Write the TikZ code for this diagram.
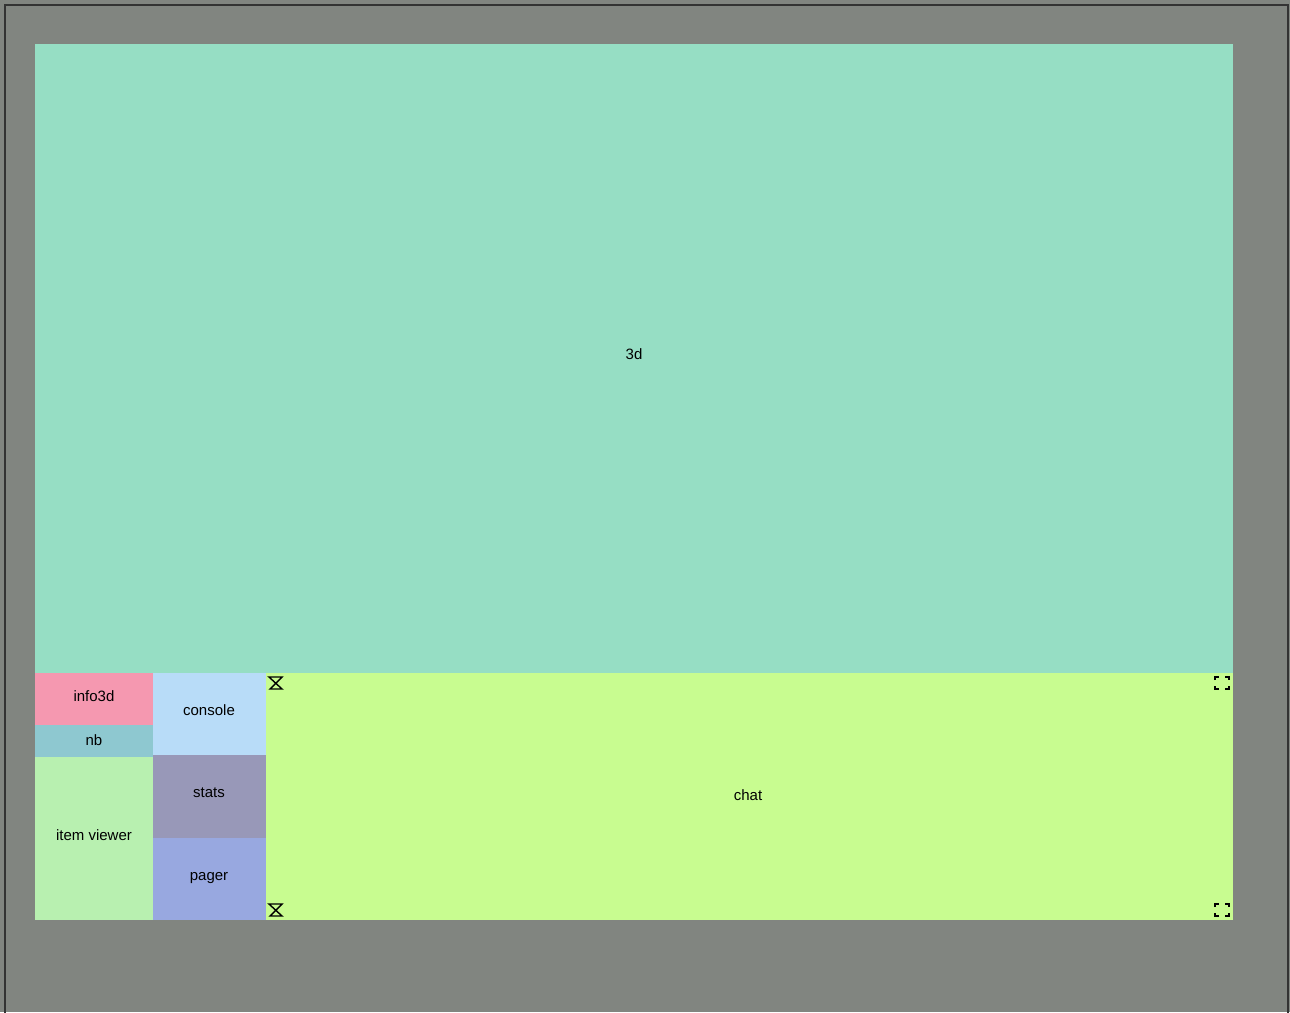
\documentclass[tikz,border=0pt]{standalone}
\usepackage{fontspec}
\setmainfont{Liberation Sans}
\definecolor{bggray}{HTML}{818580}
\definecolor{viewgreen}{HTML}{96DEC4}
\definecolor{infopink}{HTML}{F598B0}
\definecolor{nbteal}{HTML}{8EC8D0}
\definecolor{itemgreen}{HTML}{B8F0B0}
\definecolor{consoleblue}{HTML}{B8DCF8}
\definecolor{statsgray}{HTML}{9898B8}
\definecolor{pagerblue}{HTML}{98A8E0}
\definecolor{chatlime}{HTML}{C8FC90}
\tikzset{
  pane/.style={inner sep=0pt, font=\fontsize{15}{17}\selectfont},
  handle/.style={line width=1.4pt, black}
}
\begin{document}
\begin{tikzpicture}[x=1pt,y=-1pt]

% Canvas
\useasboundingbox (0,0) rectangle (1290,1012);
\fill[bggray] (0,0) rectangle (1290,1012);
\draw[black!80, line width=1.6pt] (5,1014) -- (5,5) -- (1288,5) -- (1288,1014);

% Main view
\fill[viewgreen] (35,44) rectangle (1233,673);
\node[pane] (view) at (634,354) {3d};

% Left column
\fill[infopink] (35,673) rectangle (153,725);
\node[pane] (info) at (94,696) {info3d};
\fill[nbteal] (35,725) rectangle (153,757);
\node[pane] (nb) at (94,740) {nb};
\fill[itemgreen] (35,757) rectangle (153,920);
\node[pane] (items) at (94,835) {item viewer};

% Middle column
\fill[consoleblue] (153,673) rectangle (266,755);
\node[pane] (console) at (209,710) {console};
\fill[statsgray] (153,755) rectangle (266,838);
\node[pane] (stats) at (209,793) {stats};
\fill[pagerblue] (153,838) rectangle (266,920);
\node[pane] (pager) at (209,878) {pager};

% Chat
\fill[chatlime] (266,673) rectangle (1233,920);
\node[pane] (chat) at (748,795) {chat};

% Resize handles
\foreach \hy in {683,910} {
  \draw[handle] (269,\hy-6) -- (282,\hy-6) -- (270,\hy+6) -- (282,\hy+6) -- cycle;
  \draw[handle] (1215,\hy-3) -- (1215,\hy-6) -- (1219,\hy-6)
                (1225,\hy-6) -- (1229,\hy-6) -- (1229,\hy-3)
                (1229,\hy+3) -- (1229,\hy+6) -- (1225,\hy+6)
                (1219,\hy+6) -- (1215,\hy+6) -- (1215,\hy+3);
}

\end{tikzpicture}
\end{document}
